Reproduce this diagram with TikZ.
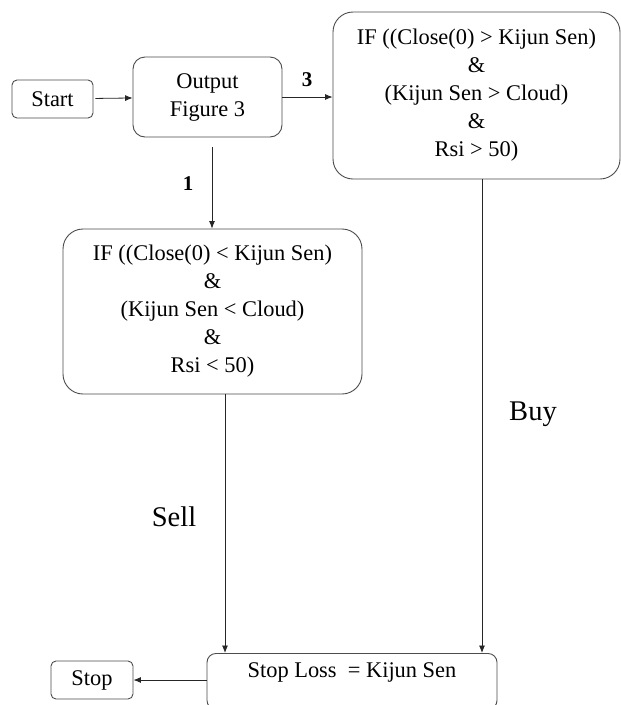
\documentclass[tikz,border=0pt]{standalone}
\usepackage{fontspec}
\setmainfont{Liberation Serif}
\usetikzlibrary{arrows.meta}
\begin{document}
\begin{tikzpicture}[x=1pt,y=-1pt,
  box/.style={draw=black!70, line width=0.9pt, inner sep=0pt, align=center,
    font=\fontsize{22.4}{28}\selectfont},
  arr/.style={draw=black!85, line width=0.8pt, -{Latex[length=7.5pt,width=6pt]}},
  num/.style={font=\fontsize{21}{24}\selectfont\bfseries},
  big/.style={font=\fontsize{28.5}{32}\selectfont}]
\useasboundingbox (0,0) rectangle (621,705);
\fill[white] (0,0) rectangle (621,705);
\node[box, rounded corners=5pt, minimum width=81pt, minimum height=38pt] (start) at (52.5,99) {Start};
\node[box, rounded corners=12pt, minimum width=149pt, minimum height=80pt] (out) at (207.5,97) {Output\\Figure 3};
\node[box, rounded corners=20pt, minimum width=287pt, minimum height=167pt] (buy) at (476.5,95.5)
  {IF ((Close(0) > Kijun Sen)\\\&\\(Kijun Sen > Cloud)\\\&\\Rsi > 50)};
\node[box, rounded corners=20pt, minimum width=299pt, minimum height=165pt] (sell) at (212.5,311.5)
  {IF ((Close(0) < Kijun Sen)\\\&\\(Kijun Sen < Cloud)\\\&\\Rsi < 50)};
\node[box, rounded corners=9pt, minimum width=290pt, text height=20pt, text depth=28pt,
  inner ysep=4pt, anchor=north] (sl) at (352,653) {Stop Loss\ \ = Kijun Sen};
\node[box, rounded corners=5pt, minimum width=82pt, minimum height=38pt] (stop) at (92,680) {Stop};
\draw[arr, shorten <=2pt] (start) -- (out);
\draw[arr] (out.east) -- (buy.west |- out.east);
\draw[arr, shorten <=10pt] ([xshift=4.5pt]out.south) -- ([xshift=4.5pt]out.south |- sell.north);
\draw[arr] ([xshift=12.5pt]sell.south) -- ([xshift=12.5pt]sell.south |- sl.north);
\draw[arr] ([xshift=5.5pt]buy.south) -- ([xshift=5.5pt]buy.south |- sl.north);
\draw[arr] (sl.west |- stop.east) -- (stop.east);
\node[num] (l3) at (307,80) {3};
\node[num] (l1) at (188,184) {1};
\node[big] (lbuy) at (533,414) {Buy};
\node[big] (lsell) at (174,517) {Sell};
\end{tikzpicture}
\end{document}
